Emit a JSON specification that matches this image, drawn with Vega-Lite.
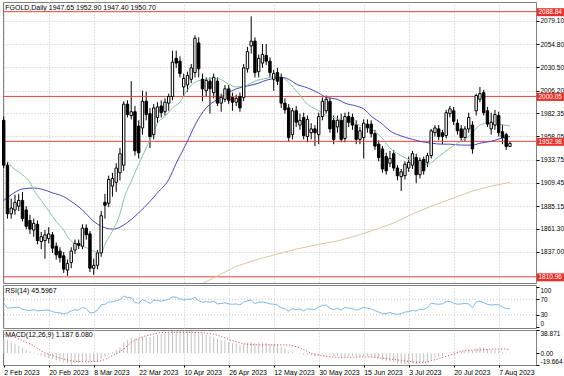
{
"$schema":"https://vega.github.io/schema/vega-lite/v6.json",
"background":"white",
"padding":{"left":1,"top":1,"right":0,"bottom":0},
"spacing":2,
"bounds":"flush",
"config":{"view":{"stroke":"#808080","strokeWidth":1},"font":"Liberation Sans",
 "axis":{"labelFont":"Liberation Sans","labelFontSize":6.5,"labelColor":"#000","tickColor":"#000","domain":false,"gridColor":"#c4c4c4","gridDash":[1,2],"gridOpacity":1,"tickSize":3,"labelPadding":1,"labelOverlap":false}},
"datasets":{
"c":[
{"i":0,"o":1975,"h":1979,"l":1925,"c":1928},{"i":1,"o":1928,"h":1931,"l":1872,"c":1877},{"i":2,"o":1877,"h":1893,"l":1872,"c":1883},{"i":3,"o":1881,"h":1897,"l":1876,"c":1889},{"i":4,"o":1885,"h":1898,"l":1880,"c":1891},{"i":5,"o":1891,"h":1900,"l":1869,"c":1872},{"i":6,"o":1881,"h":1885,"l":1861,"c":1864},{"i":7,"o":1870,"h":1876,"l":1856,"c":1861},{"i":8,"o":1860,"h":1872,"l":1853,"c":1867},{"i":9,"o":1866,"h":1870,"l":1845,"c":1849},
{"i":10,"o":1848,"h":1858,"l":1840,"c":1853},{"i":11,"o":1849,"h":1860,"l":1830,"c":1855},{"i":12,"o":1851,"h":1863,"l":1846,"c":1856},{"i":13,"o":1855,"h":1858,"l":1836,"c":1841},{"i":14,"o":1843,"h":1847,"l":1829,"c":1834},{"i":15,"o":1838,"h":1842,"l":1826,"c":1831},{"i":16,"o":1833,"h":1837,"l":1815,"c":1819},{"i":17,"o":1818,"h":1829,"l":1812,"c":1825},{"i":18,"o":1826,"h":1842,"l":1820,"c":1838},{"i":19,"o":1839,"h":1850,"l":1835,"c":1846},
{"i":20,"o":1846,"h":1850,"l":1840,"c":1844},{"i":21,"o":1843,"h":1866,"l":1840,"c":1862},{"i":22,"o":1862,"h":1866,"l":1850,"c":1855},{"i":23,"o":1856,"h":1859,"l":1816,"c":1820},{"i":24,"o":1820,"h":1830,"l":1813,"c":1823},{"i":25,"o":1823,"h":1839,"l":1819,"c":1836},{"i":26,"o":1836,"h":1880,"l":1832,"c":1875},{"i":27,"o":1889,"h":1898,"l":1872,"c":1886},{"i":28,"o":1888,"h":1917,"l":1884,"c":1913},{"i":29,"o":1906,"h":1920,"l":1895,"c":1914},
{"i":30,"o":1910,"h":1930,"l":1900,"c":1925},{"i":31,"o":1920,"h":1946,"l":1912,"c":1940},{"i":32,"o":1928,"h":1995,"l":1922,"c":1992},{"i":33,"o":1992,"h":1996,"l":1978,"c":1981},{"i":34,"o":1980,"h":2016,"l":1976,"c":1984},{"i":35,"o":1984,"h":1990,"l":1938,"c":1943},{"i":36,"o":1969,"h":1975,"l":1935,"c":1941},{"i":37,"o":1967,"h":2006,"l":1960,"c":1995},{"i":38,"o":1995,"h":2005,"l":1975,"c":1981},{"i":39,"o":1982,"h":1988,"l":1946,"c":1958},
{"i":40,"o":1960,"h":1992,"l":1955,"c":1988},{"i":41,"o":1978,"h":1994,"l":1972,"c":1989},{"i":42,"o":1990,"h":1996,"l":1978,"c":1983},{"i":43,"o":1984,"h":1998,"l":1980,"c":1994},{"i":44,"o":1993,"h":2003,"l":1985,"c":2000},{"i":45,"o":2000,"h":2048,"l":1996,"c":2036},{"i":46,"o":2040,"h":2048,"l":2030,"c":2035},{"i":47,"o":2037,"h":2042,"l":2020,"c":2024},{"i":48,"o":2010,"h":2024,"l":2000,"c":2019},{"i":49,"o":2012,"h":2026,"l":2005,"c":2022},
{"i":50,"o":2018,"h":2034,"l":2014,"c":2030},{"i":51,"o":2025,"h":2064,"l":2020,"c":2061},{"i":52,"o":2056,"h":2062,"l":2020,"c":2029},{"i":53,"o":2018,"h":2024,"l":1995,"c":2008},{"i":54,"o":2006,"h":2020,"l":2000,"c":2017},{"i":55,"o":2016,"h":2020,"l":1982,"c":2008},{"i":56,"o":2004,"h":2024,"l":1998,"c":2020},{"i":57,"o":2016,"h":2020,"l":1990,"c":1993},{"i":58,"o":1993,"h":2003,"l":1984,"c":1999},{"i":59,"o":1997,"h":2012,"l":1994,"c":2008},
{"i":60,"o":2008,"h":2012,"l":1992,"c":1996},{"i":61,"o":1999,"h":2004,"l":1985,"c":1994},{"i":62,"o":1994,"h":2002,"l":1990,"c":1998},{"i":63,"o":2000,"h":2004,"l":1984,"c":1988},{"i":64,"o":1999,"h":2034,"l":1995,"c":2030},{"i":65,"o":2029,"h":2052,"l":2025,"c":2047},{"i":66,"o":2053,"h":2084,"l":2045,"c":2058},{"i":67,"o":2058,"h":2062,"l":2020,"c":2025},{"i":68,"o":2026,"h":2044,"l":2020,"c":2040},{"i":69,"o":2035,"h":2055,"l":2030,"c":2044},
{"i":70,"o":2043,"h":2055,"l":2033,"c":2037},{"i":71,"o":2037,"h":2041,"l":2020,"c":2025},{"i":72,"o":2018,"h":2028,"l":2006,"c":2024},{"i":73,"o":2025,"h":2030,"l":2012,"c":2016},{"i":74,"o":2020,"h":2024,"l":1988,"c":1993},{"i":75,"o":1993,"h":1998,"l":1982,"c":1986},{"i":76,"o":1988,"h":1992,"l":1953,"c":1957},{"i":77,"o":1960,"h":1988,"l":1955,"c":1985},{"i":78,"o":1985,"h":1990,"l":1968,"c":1973},{"i":79,"o":1970,"h":1982,"l":1965,"c":1975},
{"i":80,"o":1978,"h":1983,"l":1955,"c":1959},{"i":81,"o":1958,"h":1980,"l":1952,"c":1976},{"i":82,"o":1962,"h":1972,"l":1955,"c":1966},{"i":83,"o":1966,"h":1970,"l":1948,"c":1962},{"i":84,"o":1960,"h":1983,"l":1950,"c":1979},{"i":85,"o":1979,"h":1999,"l":1975,"c":1995},{"i":86,"o":1985,"h":2001,"l":1982,"c":1997},{"i":87,"o":1995,"h":1999,"l":1962,"c":1966},{"i":88,"o":1975,"h":1980,"l":1950,"c":1955},{"i":89,"o":1968,"h":1980,"l":1962,"c":1975},
{"i":90,"o":1975,"h":1982,"l":1952,"c":1955},{"i":91,"o":1956,"h":1983,"l":1952,"c":1979},{"i":92,"o":1979,"h":1984,"l":1968,"c":1973},{"i":93,"o":1978,"h":1982,"l":1965,"c":1970},{"i":94,"o":1970,"h":1975,"l":1950,"c":1955},{"i":95,"o":1955,"h":1968,"l":1950,"c":1964},{"i":96,"o":1957,"h":1976,"l":1935,"c":1972},{"i":97,"o":1971,"h":1976,"l":1962,"c":1967},{"i":98,"o":1971,"h":1975,"l":1957,"c":1961},{"i":99,"o":1961,"h":1965,"l":1944,"c":1948},
{"i":100,"o":1950,"h":1954,"l":1932,"c":1936},{"i":101,"o":1945,"h":1948,"l":1920,"c":1924},{"i":102,"o":1937,"h":1941,"l":1918,"c":1922},{"i":103,"o":1930,"h":1943,"l":1926,"c":1935},{"i":104,"o":1940,"h":1944,"l":1922,"c":1925},{"i":105,"o":1925,"h":1928,"l":1912,"c":1917},{"i":106,"o":1916,"h":1924,"l":1901,"c":1921},{"i":107,"o":1917,"h":1932,"l":1913,"c":1929},{"i":108,"o":1925,"h":1937,"l":1921,"c":1931},{"i":109,"o":1928,"h":1943,"l":1924,"c":1940},
{"i":110,"o":1936,"h":1940,"l":1909,"c":1918},{"i":111,"o":1918,"h":1936,"l":1914,"c":1933},{"i":112,"o":1934,"h":1937,"l":1918,"c":1922},{"i":113,"o":1931,"h":1941,"l":1926,"c":1938},{"i":114,"o":1938,"h":1966,"l":1935,"c":1964},{"i":115,"o":1962,"h":1970,"l":1958,"c":1967},{"i":116,"o":1966,"h":1970,"l":1954,"c":1958},{"i":117,"o":1962,"h":1965,"l":1950,"c":1958},{"i":118,"o":1959,"h":1986,"l":1956,"c":1983},{"i":119,"o":1982,"h":1990,"l":1978,"c":1987},
{"i":120,"o":1985,"h":1989,"l":1970,"c":1974},{"i":121,"o":1972,"h":1976,"l":1960,"c":1964},{"i":122,"o":1966,"h":1970,"l":1953,"c":1957},{"i":123,"o":1957,"h":1969,"l":1953,"c":1966},{"i":124,"o":1966,"h":1983,"l":1962,"c":1978},{"i":125,"o":1970,"h":1974,"l":1940,"c":1945},{"i":126,"o":1985,"h":2003,"l":1980,"c":2001},{"i":127,"o":1997,"h":2010,"l":1994,"c":2003},{"i":128,"o":2004,"h":2007,"l":1980,"c":1983},{"i":129,"o":1985,"h":1989,"l":1968,"c":1971},
{"i":130,"o":1966,"h":1983,"l":1960,"c":1973},{"i":131,"o":1970,"h":1986,"l":1965,"c":1981},{"i":132,"o":1980,"h":1984,"l":1958,"c":1962},{"i":133,"o":1963,"h":1971,"l":1950,"c":1957},{"i":134,"o":1960,"h":1962,"l":1944,"c":1947.6},{"i":135,"o":1947.65,"h":1952.9,"l":1947.4,"c":1950.7}
],
"fast":[{"i":1,"v":1932},{"i":2,"v":1927},{"i":5,"v":1918},{"i":7,"v":1910},{"i":8,"v":1902},{"i":10,"v":1891},{"i":12,"v":1880},{"i":14,"v":1869},{"i":16,"v":1860},{"i":17,"v":1853},{"i":19,"v":1846},{"i":21,"v":1843},{"i":23,"v":1840},{"i":24,"v":1838},{"i":26,"v":1836},{"i":27,"v":1845},{"i":29,"v":1859},{"i":31,"v":1877},{"i":32,"v":1892},{"i":34,"v":1911},{"i":36,"v":1929},{"i":38,"v":1946},{"i":40,"v":1963},{"i":41,"v":1972},{"i":43,"v":1979},{"i":45,"v":1988},{"i":47,"v":1994},{"i":49,"v":2007},{"i":51,"v":2015},{"i":54,"v":2018},{"i":57,"v":2019},{"i":60,"v":2013},{"i":62,"v":2010},{"i":65,"v":2012},{"i":67,"v":2016},{"i":70,"v":2019},{"i":73,"v":2021},{"i":75,"v":2018},{"i":78,"v":2006},{"i":81,"v":1992},{"i":84,"v":1985},{"i":86,"v":1980},{"i":89,"v":1977},{"i":91,"v":1974},{"i":94,"v":1971},{"i":98,"v":1966},{"i":101,"v":1956},{"i":103,"v":1946},{"i":106,"v":1938},{"i":109,"v":1932},{"i":111,"v":1929},{"i":113,"v":1929},{"i":116,"v":1937},{"i":119,"v":1946},{"i":121,"v":1951},{"i":124,"v":1958},{"i":127,"v":1970},{"i":129,"v":1972},{"i":132,"v":1971},{"i":135,"v":1969}],
"slow":[{"i":0,"v":1891},{"i":2,"v":1897},{"i":5,"v":1903},{"i":8,"v":1904},{"i":10,"v":1903},{"i":13,"v":1899},{"i":16,"v":1895},{"i":18,"v":1890},{"i":21,"v":1881},{"i":24,"v":1869},{"i":26,"v":1864},{"i":29,"v":1861},{"i":31,"v":1863},{"i":33,"v":1868},{"i":36,"v":1878},{"i":39,"v":1890},{"i":41,"v":1899},{"i":44,"v":1913},{"i":46,"v":1930},{"i":49,"v":1953},{"i":51,"v":1970},{"i":54,"v":1988},{"i":57,"v":1997},{"i":59,"v":2002},{"i":62,"v":2008},{"i":65,"v":2011},{"i":68,"v":2014},{"i":70,"v":2017},{"i":73,"v":2019.5},{"i":74,"v":2020},{"i":76,"v":2018},{"i":78,"v":2013},{"i":81,"v":2009},{"i":84,"v":2003.6},{"i":86,"v":1999},{"i":89,"v":1997},{"i":91,"v":1993},{"i":94,"v":1990},{"i":96,"v":1987},{"i":98,"v":1979.5},{"i":101,"v":1971},{"i":103,"v":1964},{"i":106,"v":1958.6},{"i":109,"v":1955},{"i":111,"v":1953},{"i":114,"v":1951},{"i":117,"v":1950},{"i":119,"v":1950},{"i":122,"v":1949},{"i":125,"v":1949},{"i":127,"v":1951},{"i":130,"v":1953},{"i":133,"v":1956.5},{"i":135,"v":1958}],
"ma200":[{"i":52,"v":1800},{"i":53,"v":1804},{"i":57,"v":1812},{"i":62,"v":1822},{"i":68,"v":1829.6},{"i":73,"v":1834.8},{"i":78,"v":1840},{"i":84,"v":1845},{"i":89,"v":1848.5},{"i":94,"v":1854},{"i":98,"v":1859},{"i":104,"v":1867.4},{"i":109,"v":1876.8},{"i":114,"v":1885},{"i":120,"v":1893.6},{"i":125,"v":1900.9},{"i":130,"v":1906},{"i":135,"v":1910}],
"rsi":[{"i":0,"v":61},{"i":1,"v":47},{"i":2,"v":48},{"i":3,"v":49},{"i":4,"v":50},{"i":5,"v":44},{"i":6,"v":42},{"i":7,"v":41},{"i":8,"v":43},{"i":9,"v":40},{"i":10,"v":41},{"i":11,"v":42},{"i":12,"v":42},{"i":13,"v":38},{"i":14,"v":36},{"i":15,"v":35},{"i":16,"v":32},{"i":17,"v":35},{"i":18,"v":40},{"i":19,"v":43},{"i":20,"v":42},{"i":21,"v":49},{"i":22,"v":46},{"i":23,"v":35},{"i":24,"v":36},{"i":25,"v":42},{"i":26,"v":56},{"i":27,"v":57},{"i":28,"v":63},{"i":29,"v":63},{"i":30,"v":66},{"i":31,"v":69},{"i":32,"v":78},{"i":33,"v":74},{"i":34,"v":74},{"i":35,"v":61},{"i":36,"v":60},{"i":37,"v":69},{"i":38,"v":65},{"i":39,"v":59},{"i":40,"v":67},{"i":41,"v":67},{"i":42,"v":65},{"i":43,"v":68},{"i":44,"v":69},{"i":45,"v":76},{"i":46,"v":75},{"i":47,"v":71},{"i":48,"v":68},{"i":49,"v":70},{"i":50,"v":70},{"i":51,"v":75},{"i":52,"v":66},{"i":53,"v":62},{"i":54,"v":64},{"i":55,"v":62},{"i":56,"v":65},{"i":57,"v":58},{"i":58,"v":59},{"i":59,"v":61},{"i":60,"v":58},{"i":61,"v":57},{"i":62,"v":58},{"i":63,"v":55},{"i":64,"v":63},{"i":65,"v":66},{"i":66,"v":68},{"i":67,"v":59},{"i":68,"v":62},{"i":69,"v":63},{"i":70,"v":61},{"i":71,"v":58},{"i":72,"v":57},{"i":73,"v":55},{"i":74,"v":48},{"i":75,"v":46},{"i":76,"v":39},{"i":77,"v":46},{"i":78,"v":43},{"i":79,"v":45},{"i":80,"v":40},{"i":81,"v":46},{"i":82,"v":44},{"i":83,"v":44},{"i":84,"v":50},{"i":85,"v":54},{"i":86,"v":55},{"i":87,"v":47},{"i":88,"v":43},{"i":89,"v":47},{"i":90,"v":42},{"i":91,"v":49},{"i":92,"v":47},{"i":93,"v":46},{"i":94,"v":42},{"i":95,"v":45},{"i":96,"v":49},{"i":97,"v":47},{"i":98,"v":45},{"i":99,"v":41},{"i":100,"v":37},{"i":101,"v":33},{"i":102,"v":33},{"i":103,"v":36},{"i":104,"v":33},{"i":105,"v":31},{"i":106,"v":33},{"i":107,"v":37},{"i":108,"v":38},{"i":109,"v":41},{"i":110,"v":40},{"i":111,"v":44},{"i":112,"v":44},{"i":113,"v":48},{"i":114,"v":60},{"i":115,"v":58},{"i":116,"v":57},{"i":117,"v":58},{"i":118,"v":64},{"i":119,"v":64},{"i":120,"v":60},{"i":121,"v":57},{"i":122,"v":58},{"i":123,"v":59},{"i":124,"v":58},{"i":125,"v":48},{"i":126,"v":63},{"i":127,"v":65},{"i":128,"v":61},{"i":129,"v":57},{"i":130,"v":55},{"i":131,"v":56},{"i":132,"v":56},{"i":133,"v":50},{"i":134,"v":46},{"i":135,"v":45.6}],
"macd":[{"i":0,"v":25},{"i":1,"v":22},{"i":2,"v":18},{"i":3,"v":15},{"i":4,"v":12},{"i":5,"v":9},{"i":6,"v":6},{"i":7,"v":3},{"i":8,"v":1},{"i":9,"v":-2},{"i":10,"v":-4},{"i":11,"v":-6},{"i":12,"v":-8},{"i":13,"v":-10},{"i":14,"v":-12},{"i":15,"v":-14},{"i":16,"v":-16},{"i":17,"v":-17},{"i":18,"v":-19.6},{"i":19,"v":-17},{"i":20,"v":-16},{"i":21,"v":-14},{"i":22,"v":-13},{"i":23,"v":-15},{"i":24,"v":-15},{"i":25,"v":-14},{"i":26,"v":-10},{"i":27,"v":-6},{"i":28,"v":-2},{"i":29,"v":2},{"i":30,"v":6},{"i":31,"v":10},{"i":32,"v":18},{"i":33,"v":22},{"i":34,"v":26},{"i":35,"v":25},{"i":36,"v":24},{"i":37,"v":27},{"i":38,"v":28},{"i":39,"v":27},{"i":40,"v":29},{"i":41,"v":31},{"i":42,"v":32},{"i":43,"v":33},{"i":44,"v":34},{"i":45,"v":37},{"i":46,"v":38},{"i":47,"v":38},{"i":48,"v":37},{"i":49,"v":37},{"i":50,"v":37},{"i":51,"v":38.8},{"i":52,"v":36},{"i":53,"v":33},{"i":54,"v":31},{"i":55,"v":28},{"i":56,"v":27},{"i":57,"v":24},{"i":58,"v":22},{"i":59,"v":21},{"i":60,"v":19},{"i":61,"v":17},{"i":62,"v":16},{"i":63,"v":14},{"i":64,"v":16},{"i":65,"v":18},{"i":66,"v":19},{"i":67,"v":17},{"i":68,"v":17},{"i":69,"v":18},{"i":70,"v":17},{"i":71,"v":16},{"i":72,"v":15},{"i":73,"v":14},{"i":74,"v":11},{"i":75,"v":8},{"i":76,"v":3},{"i":77,"v":2},{"i":78,"v":0.5},{"i":79,"v":-1},{"i":80,"v":-3},{"i":81,"v":-3},{"i":82,"v":-4},{"i":83,"v":-5},{"i":84,"v":-4},{"i":85,"v":-2},{"i":86,"v":-1},{"i":87,"v":-3},{"i":88,"v":-5},{"i":89,"v":-5},{"i":90,"v":-6},{"i":91,"v":-5},{"i":92,"v":-5},{"i":93,"v":-5},{"i":94,"v":-6},{"i":95,"v":-6},{"i":96,"v":-5},{"i":97,"v":-5},{"i":98,"v":-6},{"i":99,"v":-7},{"i":100,"v":-9},{"i":101,"v":-12},{"i":102,"v":-13},{"i":103,"v":-14},{"i":104,"v":-15},{"i":105,"v":-17},{"i":106,"v":-18},{"i":107,"v":-18},{"i":108,"v":-18},{"i":109,"v":-17},{"i":110,"v":-18},{"i":111,"v":-17},{"i":112,"v":-17},{"i":113,"v":-15},{"i":114,"v":-11},{"i":115,"v":-8},{"i":116,"v":-6},{"i":117,"v":-5},{"i":118,"v":-1},{"i":119,"v":2},{"i":120,"v":3},{"i":121,"v":3},{"i":122,"v":3},{"i":123,"v":4},{"i":124,"v":6},{"i":125,"v":4},{"i":126,"v":8},{"i":127,"v":10},{"i":128,"v":9},{"i":129,"v":7},{"i":130,"v":6},{"i":131,"v":6},{"i":132,"v":4},{"i":133,"v":2},{"i":134,"v":1},{"i":135,"v":1.187}],
"sig":[{"i":0,"v":32},{"i":2,"v":29},{"i":5,"v":21},{"i":8,"v":12.5},{"i":10,"v":4},{"i":13,"v":-4},{"i":16,"v":-9.7},{"i":18,"v":-12.5},{"i":21,"v":-14},{"i":24,"v":-14},{"i":26,"v":-12.5},{"i":29,"v":-4},{"i":32,"v":7},{"i":34,"v":18},{"i":37,"v":27.5},{"i":40,"v":32},{"i":42,"v":34.7},{"i":45,"v":35},{"i":50,"v":35},{"i":55,"v":33},{"i":58,"v":28},{"i":61,"v":21},{"i":64,"v":16},{"i":66,"v":14.5},{"i":70,"v":14},{"i":75,"v":14},{"i":78,"v":11},{"i":80,"v":6},{"i":82,"v":0},{"i":85,"v":-4},{"i":87,"v":-5.8},{"i":90,"v":-7},{"i":94,"v":-6.5},{"i":97,"v":-6},{"i":100,"v":-7.5},{"i":103,"v":-9.7},{"i":106,"v":-12},{"i":108,"v":-13.7},{"i":112,"v":-15.3},{"i":114,"v":-12.5},{"i":117,"v":-7},{"i":120,"v":-1.4},{"i":122,"v":3},{"i":125,"v":5.3},{"i":128,"v":5.9},{"i":130,"v":7},{"i":133,"v":7.3},{"i":135,"v":6.08}],
"lv":[{"p":2088.84,"t":"2088.84"},{"p":2000.05,"t":"2000.05"},{"p":1952.98,"t":"1952.98"},{"p":1810.96,"t":"1810.96"}]
},
"vconcat":[
{
"width":533,"height":281,
"layer":[
{"data":{"values":[{"t":"FGOLD,Daily  1947.65 1952.90 1947.40 1950.70"}]},"mark":{"type":"text","color":"#000","align":"left","baseline":"top","fontSize":7},
 "encoding":{
  "x":{"datum":0.4,"type":"quantitative","scale":{"domain":[-0.19,141.95],"nice":false,"zero":false},
       "axis":{"orient":"bottom","values":[0,12,24,36,48,60,72,84,96,108,120,132],"tickCount":50,"labels":false,"ticks":false,"grid":true,"title":null}},
  "y":{"datum":2097,"type":"quantitative","scale":{"domain":[1804.5,2099],"nice":false,"zero":false},
       "axis":{"orient":"right","values":[2079.10,2054.80,2030.50,2006.20,1982.35,1958.05,1933.75,1909.45,1885.15,1861.30,1837.00],"tickCount":50,"format":".2f","grid":true,"title":null,"labelOverlap":false,"labelBound":false}},
  "text":{"field":"t"}}},
{"data":{"name":"c"},"mark":{"type":"rule","color":"#000","strokeWidth":1},
 "encoding":{
  "x":{"field":"i","type":"quantitative","scale":{"domain":[-0.19,141.95],"nice":false,"zero":false}},
  "y":{"field":"l","type":"quantitative","scale":{"domain":[1804.5,2099],"nice":false,"zero":false}},
  "y2":{"field":"h"}}},
{"data":{"name":"lv"},"mark":{"type":"rule","color":"#e8403a","strokeWidth":1},
 "encoding":{"y":{"field":"p","type":"quantitative","scale":{"domain":[1804.5,2099],"nice":false,"zero":false}}}},
{"data":{"name":"ma200"},"mark":{"type":"line","color":"#dcc6a0","strokeWidth":1,"clip":true},
 "encoding":{"x":{"field":"i","type":"quantitative","scale":{"domain":[-0.19,141.95],"nice":false,"zero":false}},
  "y":{"field":"v","type":"quantitative","scale":{"domain":[1804.5,2099],"nice":false,"zero":false}}}},
{"data":{"name":"slow"},"mark":{"type":"line","color":"#4a4ab8","strokeWidth":1,"interpolate":"monotone"},
 "encoding":{"x":{"field":"i","type":"quantitative","scale":{"domain":[-0.19,141.95],"nice":false,"zero":false}},
  "y":{"field":"v","type":"quantitative","scale":{"domain":[1804.5,2099],"nice":false,"zero":false}}}},
{"data":{"name":"fast"},"mark":{"type":"line","color":"#86c4a4","strokeWidth":1,"interpolate":"monotone"},
 "encoding":{"x":{"field":"i","type":"quantitative","scale":{"domain":[-0.19,141.95],"nice":false,"zero":false}},
  "y":{"field":"v","type":"quantitative","scale":{"domain":[1804.5,2099],"nice":false,"zero":false}}}},
{"data":{"name":"c"},"mark":{"type":"rect","xOffset":-1.2,"x2Offset":1.2,"stroke":"#000","strokeWidth":1},
 "encoding":{
  "x":{"field":"i","type":"quantitative","scale":{"domain":[-0.19,141.95],"nice":false,"zero":false}},
  "x2":{"field":"i"},
  "y":{"field":"o","type":"quantitative","scale":{"domain":[1804.5,2099],"nice":false,"zero":false}},
  "y2":{"field":"c"},
  "fill":{"condition":{"test":"datum.c >= datum.o","value":"#ffffff"},"value":"#000000"}}},
{"data":{"name":"lv"},"mark":{"type":"rect","color":"#e8302a","yOffset":-3.5,"y2Offset":4.5},
 "encoding":{
  "x":{"datum":142.2,"type":"quantitative","scale":{"domain":[-0.19,141.95],"nice":false,"zero":false}},
  "x2":{"datum":149.4},
  "y":{"field":"p","type":"quantitative","scale":{"domain":[1804.5,2099],"nice":false,"zero":false}},
  "y2":{"field":"p"}}},
{"data":{"name":"lv"},"mark":{"type":"text","color":"#ffffff","align":"left","baseline":"middle","fontSize":6.5,"dx":1.5,"dy":0.5},
 "encoding":{
  "x":{"datum":142.2,"type":"quantitative","scale":{"domain":[-0.19,141.95],"nice":false,"zero":false}},
  "y":{"field":"p","type":"quantitative","scale":{"domain":[1804.5,2099],"nice":false,"zero":false}},
  "text":{"field":"t"}}}
]
},
{
"width":533,"height":43,
"layer":[
{"data":{"values":[{"t":"RSI(14) 45.5967"}]},"mark":{"type":"text","color":"#000","align":"left","baseline":"top","fontSize":7},
 "encoding":{
  "x":{"datum":0.4,"type":"quantitative","scale":{"domain":[-0.19,141.95],"nice":false,"zero":false},
       "axis":{"orient":"bottom","values":[0,12,24,36,48,60,72,84,96,108,120,132],"tickCount":50,"labels":false,"ticks":false,"grid":true,"title":null}},
  "y":{"datum":101.5,"type":"quantitative","scale":{"domain":[-3.8,106.4],"nice":false,"zero":false},
       "axis":{"orient":"right","values":[100,70,30,0],"tickCount":50,"grid":false,"title":null,"labelFlush":3,"labelOverlap":false,"labelBound":false}},
  "text":{"field":"t"}}},
{"data":{"values":[{"v":70},{"v":30}]},"mark":{"type":"rule","color":"#c4c4c4","strokeDash":[1,2],"strokeWidth":1},
 "encoding":{
  "y":{"field":"v","type":"quantitative","scale":{"domain":[-3.8,106.4],"nice":false,"zero":false}}}},
{"data":{"name":"rsi"},"mark":{"type":"line","color":"#7db9e8","strokeWidth":1},
 "encoding":{
  "x":{"field":"i","type":"quantitative","scale":{"domain":[-0.19,141.95],"nice":false,"zero":false}},
  "y":{"field":"v","type":"quantitative","scale":{"domain":[-3.8,106.4],"nice":false,"zero":false}}}}
]
},
{
"width":533,"height":35,
"layer":[
{"data":{"values":[{"t":"MACD(12,26,9) 1.187 6.080"}]},"mark":{"type":"text","color":"#000","align":"left","baseline":"top","fontSize":7},
 "encoding":{
  "x":{"datum":0.4,"type":"quantitative","scale":{"domain":[-0.19,141.95],"nice":false,"zero":false},
       "axis":{"orient":"bottom","values":[0,12,24,36,48,60,72,84,96,108,120,132],"tickCount":50,"grid":true,"title":null,"labelAlign":"left","labelFontSize":7,"tickSize":2,"labelPadding":1,"labelFlush":false,"labelOverlap":false,
       "labelExpr":"['2 Feb 2023','20 Feb 2023','8 Mar 2023','22 Mar 2023','10 Apr 2023','26 Apr 2023','12 May 2023','30 May 2023','15 Jun 2023','3 Jul 2023','20 Jul 2023','7 Aug 2023'][round(datum.value/12)]"}},
  "y":{"datum":37.5,"type":"quantitative","scale":{"domain":[-19.664,38.871],"nice":false,"zero":false},
       "axis":{"orient":"right","values":[38.86,0,-19.65],"tickCount":50,"grid":false,"title":null,"labelFlush":2,"labelOverlap":false,"labelBound":false,
       "labelExpr":"datum.value > 1 ? '38.871' : (datum.value < -1 ? '-19.664' : '0.00')"}},
  "text":{"field":"t"}}},
{"data":{"name":"macd"},"mark":{"type":"rule","color":"#c0c0c0","strokeWidth":1},
 "encoding":{
  "x":{"field":"i","type":"quantitative","scale":{"domain":[-0.19,141.95],"nice":false,"zero":false}},
  "y":{"field":"v","type":"quantitative","scale":{"domain":[-19.664,38.871],"nice":false,"zero":false}},
  "y2":{"datum":0}}},
{"data":{"name":"sig"},"mark":{"type":"line","color":"#e03c3c","strokeWidth":1,"strokeDash":[1,2],"interpolate":"monotone"},
 "encoding":{
  "x":{"field":"i","type":"quantitative","scale":{"domain":[-0.19,141.95],"nice":false,"zero":false}},
  "y":{"field":"v","type":"quantitative","scale":{"domain":[-19.664,38.871],"nice":false,"zero":false}}}}
]
}
]
}
